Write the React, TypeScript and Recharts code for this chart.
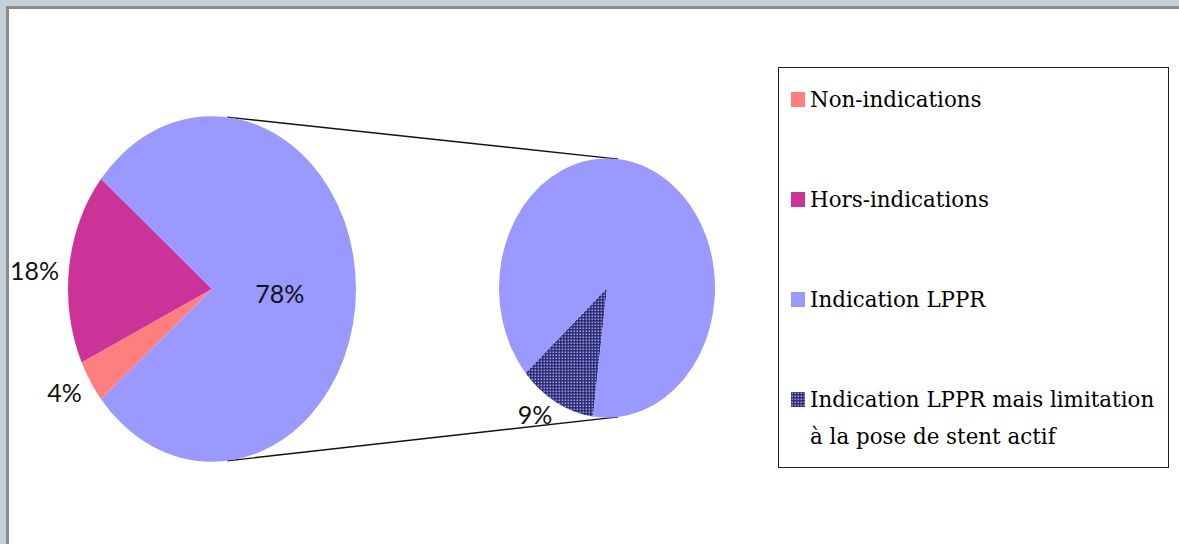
import { PieChart, Pie, Cell, Customized } from 'recharts'

// main pie: order follows the angle, starting from the top-left edge of the big slice
const MAIN_CATEGORIES = ['Hors-indications', 'Non-indications', 'Indication LPPR']
const MAIN_VALUES = [18, 4, 78]
const MAIN_COLORS = ['#cc3399', '#ff7f7f', '#9999ff']

// secondary pie: breakdown of "Indication LPPR"
const SPLIT_CATEGORIES = ['Indication LPPR mais limitation à la pose de stent actif', 'Indication LPPR (autre)']
const SPLIT_VALUES = [9, 69]
const SPLIT_COLORS = ['url(#dots)', '#9999ff']
const SPLIT_LABELED = [true, false]

const LEGEND_LABELS = [
  'Non-indications',
  'Hors-indications',
  'Indication LPPR',
  'Indication LPPR mais limitation à la pose de stent actif',
]
const LEGEND_COLORS = ['#ff7f7f', '#cc3399', '#9999ff', 'url(#dotsLegend)']

const mainData = MAIN_CATEGORIES.map((name, i) => ({ name, value: MAIN_VALUES[i] }))
const splitData = SPLIT_CATEGORIES.map((name, i) => ({ name, value: SPLIT_VALUES[i] }))

const STRETCH = 1.2 // pies are drawn as upright ellipses
const RAD = Math.PI / 180
const MAIN = { cx: 212, cy: 289, r: 144 }
const SPLIT = { cx: 607, cy: 288, r: 108 }
const CONNECT_ANGLE = 84

// span of the big slice, centred on the right side
const bigSpan = (MAIN_VALUES[2] / MAIN_VALUES.reduce((a, b) => a + b, 0)) * 360
const MAIN_START = bigSpan / 2

function ellipsePoint(cx: number, cy: number, r: number, angle: number, k = 1) {
  return [cx + r * k * Math.cos(angle * RAD), cy - r * STRETCH * k * Math.sin(angle * RAD)]
}

function EllipseSector(props: any) {
  const { cx, cy, outerRadius, startAngle, endAngle, fill } = props
  const rx = outerRadius
  const ry = outerRadius * STRETCH
  const [x1, y1] = ellipsePoint(cx, cy, outerRadius, startAngle)
  const [x2, y2] = ellipsePoint(cx, cy, outerRadius, endAngle)
  const sweep = endAngle - startAngle
  const large = Math.abs(sweep) > 180 ? 1 : 0
  const flag = sweep > 0 ? 0 : 1
  return (
    <path
      d={`M${cx},${cy} L${x1},${y1} A${rx},${ry} 0 ${large} ${flag} ${x2},${y2} Z`}
      fill={fill}
      stroke="none"
    />
  )
}

const labelStyle = { fontFamily: 'Lato, "Open Sans", sans-serif', fontSize: 25, fill: '#111' }

function renderLabel(props: any, show: (i: number) => boolean) {
  const { cx, cy, outerRadius, midAngle, percent, value, index } = props
  if (!show(index)) return null
  const inside = percent > 0.5
  const [x, y] = ellipsePoint(cx, cy, outerRadius, midAngle, inside ? 0.47 : 1.07)
  const anchor = inside ? 'middle' : Math.cos(midAngle * RAD) < 0 ? 'end' : 'start'
  return (
    <text x={x} y={y + 4} textAnchor={anchor} dominantBaseline="central" style={labelStyle}>
      {`${value}%`}
    </text>
  )
}

function Connectors() {
  const a = ellipsePoint(MAIN.cx, MAIN.cy, MAIN.r, CONNECT_ANGLE)
  const b = ellipsePoint(SPLIT.cx, SPLIT.cy, SPLIT.r, CONNECT_ANGLE)
  const c = ellipsePoint(MAIN.cx, MAIN.cy, MAIN.r, -CONNECT_ANGLE)
  const d = ellipsePoint(SPLIT.cx, SPLIT.cy, SPLIT.r, -CONNECT_ANGLE)
  return (
    <g stroke="#111" strokeWidth={1.4}>
      <line x1={a[0]} y1={a[1]} x2={b[0]} y2={b[1]} />
      <line x1={c[0]} y1={c[1]} x2={d[0]} y2={d[1]} />
    </g>
  )
}

function DotPattern({ id }: { id: string }) {
  return (
    <pattern id={id} patternUnits="userSpaceOnUse" width={3} height={3}>
      <rect width={3} height={3} fill="#2b2b66" />
      <rect x={0.5} y={0.5} width={1.6} height={1.6} fill="#9999ff" />
    </pattern>
  )
}

export default function App() {
  return (
    <div style={{ position: 'fixed', left: 0, top: 0, width: 1179, height: 544, background: '#c5cfd7', overflow: 'hidden' }}>
      <div
        style={{
          position: 'absolute',
          left: 6,
          top: 6,
          right: 0,
          bottom: 0,
          background: '#fff',
          borderLeft: '3px solid #8a8a8a',
          borderTop: '3px solid #8a8a8a',
        }}
      />
      <div style={{ position: 'absolute', left: 0, top: 0 }}>
        <PieChart width={1179} height={544} margin={{ top: 0, right: 0, bottom: 0, left: 0 }}>
          <defs>
            <DotPattern id="dots" />
          </defs>
          <Customized component={Connectors} />
          <Pie
            data={mainData}
            dataKey="value"
            cx={MAIN.cx}
            cy={MAIN.cy}
            outerRadius={MAIN.r}
            startAngle={MAIN_START}
            endAngle={MAIN_START + 360}
            stroke="none"
            shape={EllipseSector}
            label={(p: any) => renderLabel(p, () => true)}
            labelLine={false}
            isAnimationActive={false}
          >
            {mainData.map((d, i) => (
              <Cell key={d.name} fill={MAIN_COLORS[i]} />
            ))}
          </Pie>
          <Pie
            data={splitData}
            dataKey="value"
            cx={SPLIT.cx}
            cy={SPLIT.cy}
            outerRadius={SPLIT.r}
            startAngle={221}
            endAngle={581}
            stroke="none"
            shape={EllipseSector}
            label={(p: any) => renderLabel(p, (i) => SPLIT_LABELED[i])}
            labelLine={false}
            isAnimationActive={false}
          >
            {splitData.map((d, i) => (
              <Cell key={d.name} fill={SPLIT_COLORS[i]} />
            ))}
          </Pie>
        </PieChart>
      </div>

      <div
        style={{
          position: 'absolute',
          left: 778,
          top: 67,
          width: 391,
          height: 401,
          boxSizing: 'border-box',
          border: '1.5px solid #222',
          paddingTop: 13,
          fontFamily: '"DejaVu Serif", serif',
          fontSize: 21.4,
          lineHeight: '37px',
          color: '#000',
        }}
      >
        {LEGEND_LABELS.map((label, i) => (
          <div key={label} style={{ position: 'relative', height: i < LEGEND_LABELS.length - 1 ? 100 : 'auto', paddingLeft: 31 }}>
            <svg width={14} height={15} style={{ position: 'absolute', left: 12, top: 11 }}>
              <defs>
                <DotPattern id="dotsLegend" />
              </defs>
              <rect width={14} height={15} fill={LEGEND_COLORS[i]} />
            </svg>
            <div style={{ width: 355 }}>{label}</div>
          </div>
        ))}
      </div>
    </div>
  )
}
